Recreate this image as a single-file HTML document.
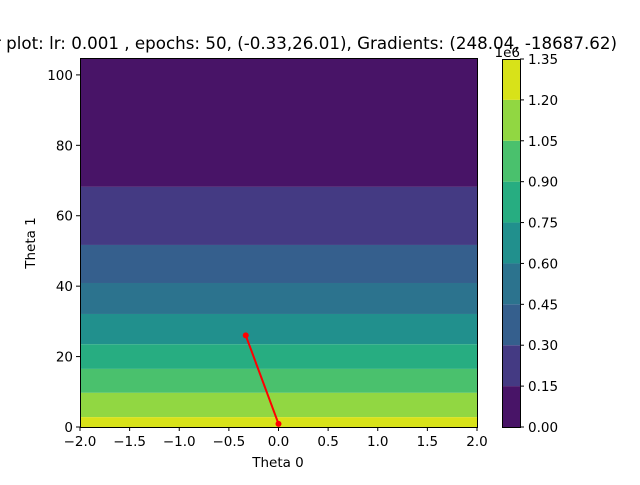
<!DOCTYPE html>
<html><head><meta charset="utf-8"><style>
body{margin:0;background:#fff}
svg text{font-family:"DejaVu Sans","Liberation Sans",sans-serif;fill:#000}
</style></head><body>
<svg id="chart" width="640" height="480" viewBox="0 0 640 480" xmlns="http://www.w3.org/2000/svg">
<rect width="640" height="480" fill="#fff"/>
<text x="617" y="49" text-anchor="end" font-size="16.7">Contour plot: lr: 0.001 , epochs: 50, (-0.33,26.01), Gradients: (248.04, -18687.62)</text>
<g id="bands"></g>
<g id="path"></g>
<rect x="80.5" y="58.5" width="397" height="369" fill="none" stroke="#000" stroke-width="1"/>
<g id="xaxis"></g><g id="yaxis"></g><g id="cbar"></g>
<text x="278" y="467" text-anchor="middle" font-size="13.5">Theta 0</text>
<text x="35" y="243" text-anchor="middle" font-size="13.5" transform="rotate(-90 35 243)">Theta 1</text>
<text x="520" y="57" text-anchor="end" font-size="13.5">1e6</text>
</svg>
<script>
const levels=[0,0.15,0.30,0.45,0.60,0.75,0.90,1.05,1.20,1.35];
const levelLabels=["0.00","0.15","0.30","0.45","0.60","0.75","0.90","1.05","1.20","1.35"];
const levelColors=["#481467","#443a83","#355f8d","#2c738e","#21908d","#27ad81","#4ac16d","#91d742","#d8e219"];
const bandBounds=[104.8,68.2,51.7,40.9,32.1,23.5,16.5,9.7,2.8,0];
const xTicks=[-2,-1.5,-1,-0.5,0,0.5,1,1.5,2];
const xTickLabels=["−2.0","−1.5","−1.0","−0.5","0.0","0.5","1.0","1.5","2.0"];
const yTicks=[0,20,40,60,80,100];
const pathTheta0=[-0.33,0];
const pathTheta1=[26.01,0.9];
const NS="http://www.w3.org/2000/svg";
const X0=80,X1=477,Y0=427,Y1=58;
const xs=v=>X0+(v+2)/4*(X1-X0);
const ys=v=>Y0-v/104.8*(Y0-Y1);
function mk(t,a,p){const e=document.createElementNS(NS,t);for(const k in a)e.setAttribute(k,a[k]);p.appendChild(e);return e;}
const bands=document.getElementById('bands');
for(let i=0;i<levelColors.length;i++){
 const top=ys(bandBounds[i]),bot=ys(bandBounds[i+1]);
 const r=mk('rect',{x:X0,y:top,width:X1-X0,height:bot-top,fill:levelColors[i]},bands);
 
 
}
const pg=document.getElementById('path');
let d=pathTheta0.map((v,i)=>(i?'L':'M')+xs(v)+' '+ys(pathTheta1[i])).join(' ');
const pl=mk('path',{d:d,stroke:'#ff0000','stroke-width':2,fill:'none'},pg);


pathTheta0.forEach((v,i)=>{const c=mk('circle',{cx:xs(v),cy:ys(pathTheta1[i]),r:3,fill:'#ff0000'},pg);
 
 });
const xa=document.getElementById('xaxis');
xTicks.forEach((v,i)=>{const x=xs(v);mk('line',{x1:x,x2:x,y1:427,y2:431,stroke:'#000'},xa);
 const t=mk('text',{x:x,y:446,'text-anchor':'middle','font-size':13.5},xa);t.textContent=xTickLabels[i];
 
 });
const ya=document.getElementById('yaxis');
yTicks.forEach(v=>{const y=ys(v);mk('line',{x1:76,x2:80,y1:y,y2:y,stroke:'#000'},ya);
 const t=mk('text',{x:73,y:y+5,'text-anchor':'end','font-size':13.5},ya);t.textContent=v;
 
 });
const cb=document.getElementById('cbar');
const CB0=427,CB1=59,cs=v=>CB0-v/1.35*(CB0-CB1);
for(let i=0;i<levelColors.length;i++){
 const r=mk('rect',{x:502,y:cs(levels[i+1]),width:18,height:cs(levels[i])-cs(levels[i+1]),fill:levelColors[i]},cb);
 
 
}
mk('rect',{x:502.5,y:CB1+0.5,width:18,height:CB0-CB1,fill:'none',stroke:'#000'},cb);
levels.forEach((v,i)=>{const y=cs(v);mk('line',{x1:520,x2:524,y1:y,y2:y,stroke:'#000'},cb);
 const t=mk('text',{x:528,y:y+5,'font-size':13.5},cb);t.textContent=levelLabels[i];
 
 });
</script>
</body></html>
